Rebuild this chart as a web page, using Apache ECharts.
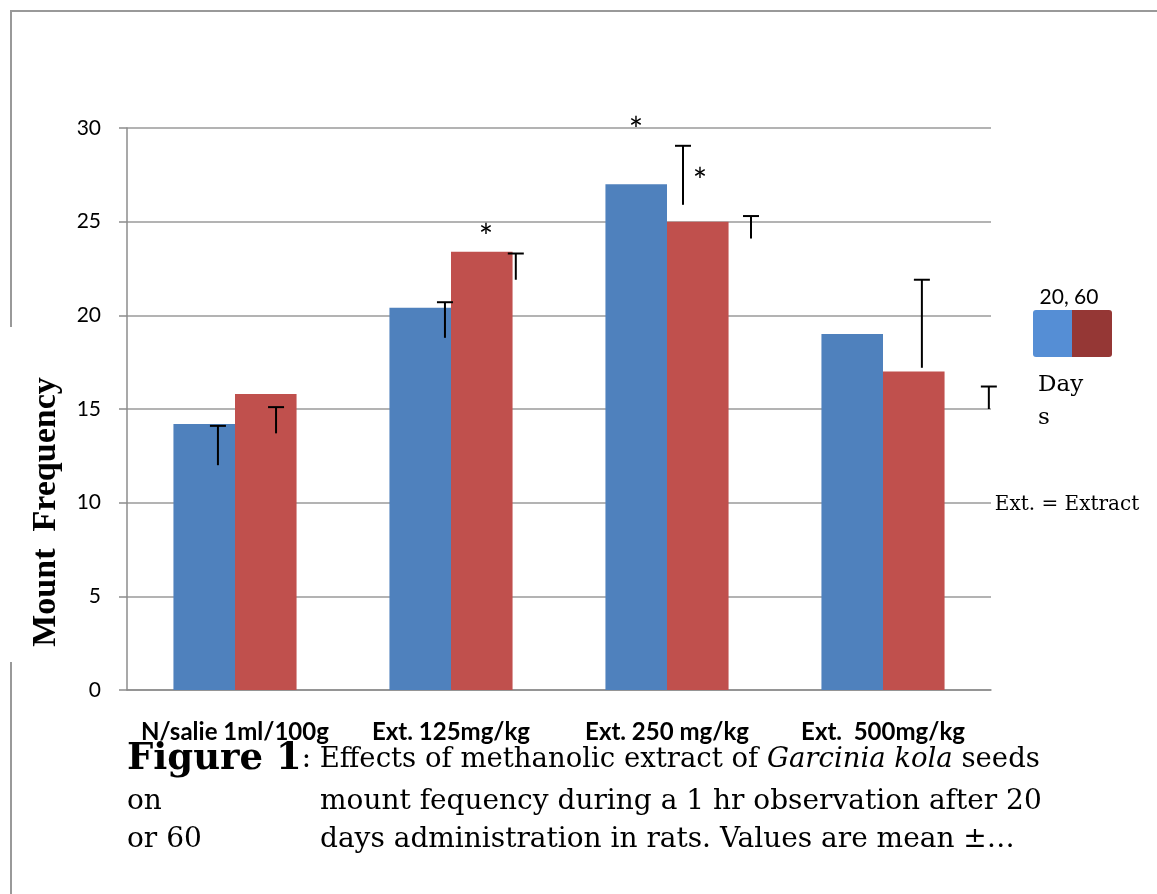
<!DOCTYPE html>
<html><head><meta charset="utf-8">
<script src="https://cdn.jsdelivr.net/npm/echarts@6/dist/echarts.min.js"></script>
<style>html,body{margin:0;padding:0;background:#fff}#c{width:1157px;height:894px}</style>
</head><body><div id="c"></div>
<script>
// ---- data ----
const categories = ['N/salie 1ml/100g', 'Ext. 125mg/kg', 'Ext. 250 mg/kg', 'Ext.  500mg/kg'];
const day20 = [14.2, 20.4, 27, 19];
const day60 = [15.8, 23.4, 25, 17];
const yTicks = [0, 5, 10, 15, 20, 25, 30];
// error bars as drawn in the figure (they are displaced sideways in the original)
const errCat   = [0, 0, 1, 1, 2, 2, 3, 3];
const errShift = [-0.079, 0.19, -0.028, 0.30, 0.074, 0.389, 0.18, 0.49]; // in category widths
const errLow   = [12.0, 13.7, 18.8, 21.9, 25.9, 24.1, 17.2, 15.0];
const errHigh  = [14.1, 15.1, 20.7, 23.3, 29.05, 25.3, 21.9, 16.2];
// significance asterisks
const starCat   = [1, 2, 2];
const starShift = [0.162, -0.144, 0.153];
const starValue = [24.6, 30.3, 27.6];

const errData = errCat.map((c, i) => [c, errLow[i], errHigh[i], errShift[i]]);
const starData = starCat.map((c, i) => [c, starValue[i], starShift[i]]);

const serif = '"DejaVu Serif", "Liberation Serif", serif';
const sans = 'Lato, "Open Sans", sans-serif';

const chart = echarts.init(document.getElementById('c'), null, {renderer: 'canvas'});
chart.setOption({
  animation: false,
  backgroundColor: '#fff',
  grid: {left: 127, right: 166, top: 128, bottom: 204, containLabel: false},
  xAxis: {
    type: 'category', data: categories,
    axisLine: {lineStyle: {color: '#8c8c8c', width: 1.5}},
    axisTick: {show: false},
    axisLabel: {color: '#000', fontWeight: 'bold', fontSize: 24, fontFamily: sans, margin: 30, interval: 0}
  },
  yAxis: {
    type: 'value', min: 0, max: 30, interval: 5,
    axisLine: {show: true, lineStyle: {color: '#8c8c8c', width: 1.5}},
    axisTick: {show: true, length: 8, lineStyle: {color: '#8c8c8c', width: 1.5}},
    axisLabel: {color: '#000', fontSize: 21, fontFamily: sans, margin: 26,
      formatter: v => yTicks.includes(v) ? String(v) : ''},
    splitLine: {lineStyle: {color: '#9a9a9a', width: 1.5}}
  },
  series: [
    {name: '20 Days', type: 'bar', data: day20, barWidth: '28.5%', barGap: '0%',
      itemStyle: {color: '#4F81BD'}},
    {name: '60 Days', type: 'bar', data: day60, barWidth: '28.5%', barGap: '0%',
      itemStyle: {color: '#C0504D'}},
    {type: 'custom', data: errData, clip: false, z: 5,
      renderItem(params, api) {
        const top = api.coord([api.value(0), api.value(2)]);
        const low = api.coord([api.value(0), api.value(1)]);
        const bw = api.size([1, 0])[0];
        const x = top[0] + api.value(3) * bw;
        return {type: 'group', children: [
          {type: 'line', shape: {x1: x, y1: top[1], x2: x, y2: low[1]}, style: {stroke: '#000', lineWidth: 2}},
          {type: 'line', shape: {x1: x - 8, y1: top[1], x2: x + 8, y2: top[1]}, style: {stroke: '#000', lineWidth: 2}}
        ]};
      }},
    {type: 'custom', data: starData, clip: false, z: 6,
      renderItem(params, api) {
        const p = api.coord([api.value(0), api.value(1)]);
        const bw = api.size([1, 0])[0];
        return {type: 'text', x: p[0] + api.value(2) * bw, y: p[1] - 8,
          style: {text: '*', fontSize: 34, fontFamily: sans, fill: '#000', align: 'center', verticalAlign: 'top'}};
      }}
  ],
  graphic: [
    // page borders
    {type: 'line', shape: {x1: 10, y1: 11, x2: 1157, y2: 11}, style: {stroke: '#999', lineWidth: 2}},
    {type: 'line', shape: {x1: 11, y1: 10, x2: 11, y2: 327}, style: {stroke: '#999', lineWidth: 2}},
    {type: 'line', shape: {x1: 11, y1: 662, x2: 11, y2: 894}, style: {stroke: '#999', lineWidth: 2}},
    // y axis title
    {type: 'text', x: 46, y: 512, rotation: Math.PI / 2,
      style: {text: 'Mount  Frequency', font: 'bold 34px "Liberation Serif", serif', fill: '#000', align: 'center', verticalAlign: 'middle'}},
    // legend
    {type: 'text', x: 1069, y: 297, style: {text: '20, 60', fontSize: 21, fontFamily: sans, fill: '#000', align: 'center', verticalAlign: 'middle'}},
    {type: 'rect', shape: {x: 1033, y: 310, width: 45, height: 47, r: 3}, style: {fill: '#558ED5'}},
    {type: 'rect', shape: {x: 1072, y: 310, width: 40, height: 47, r: [0, 3, 3, 0]}, style: {fill: '#953735'}},
    {type: 'text', x: 1038, y: 397, style: {text: 'Day', fontSize: 23, fontFamily: serif, fill: '#000', verticalAlign: 'bottom'}},
    {type: 'text', x: 1038, y: 430, style: {text: 's', fontSize: 23, fontFamily: serif, fill: '#000', verticalAlign: 'bottom'}},
    {type: 'text', x: 1067, y: 505, style: {text: 'Ext. = Extract', fontSize: 20, fontFamily: serif, fill: '#000', align: 'center', verticalAlign: 'middle'}},
    // caption
    {type: 'text', x: 127, y: 778, style: {
      text: '{b|Figure 1}{n|: Effects of methanolic extract of }{i|Garcinia kola}{n| seeds}',
      verticalAlign: 'bottom',
      rich: {
        b: {font: 'bold 37px ' + serif, fill: '#000'},
        n: {font: '27.5px ' + serif, fill: '#000'},
        i: {font: 'italic 27.5px ' + serif, fill: '#000'}
      }}},
    {type: 'text', x: 127, y: 816, style: {text: 'on', font: '28px ' + serif, fill: '#000', verticalAlign: 'bottom'}},
    {type: 'text', x: 320, y: 816, style: {text: 'mount fequency during a 1 hr observation after 20', font: '28px ' + serif, fill: '#000', verticalAlign: 'bottom'}},
    {type: 'text', x: 127, y: 854, style: {text: 'or 60', font: '28px ' + serif, fill: '#000', verticalAlign: 'bottom'}},
    {type: 'text', x: 320, y: 854, style: {text: 'days administration in rats. Values are mean \u00b1\u2026', font: '28px ' + serif, fill: '#000', verticalAlign: 'bottom'}}
  ]
});
</script>
</body></html>
